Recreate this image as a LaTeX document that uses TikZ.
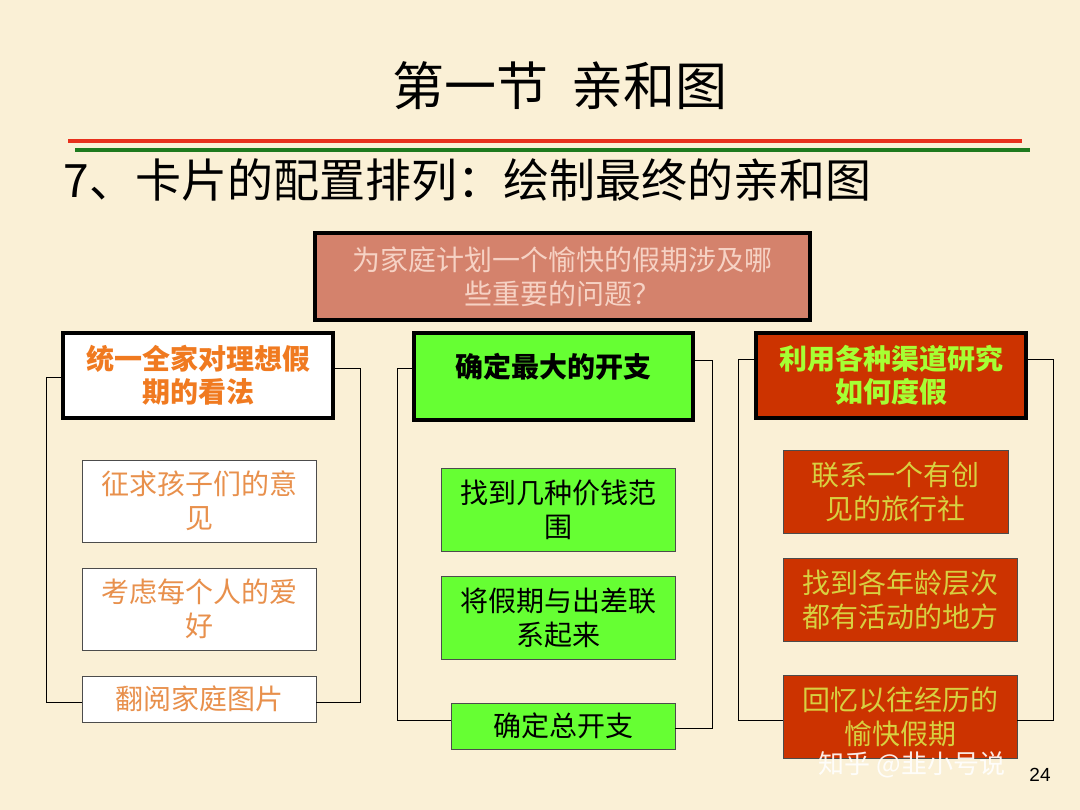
\documentclass[tikz,border=0pt]{standalone}
\usepackage{fontspec}
\setmainfont{Noto Sans CJK SC}
\setsansfont{Liberation Sans}
\definecolor{bg}{HTML}{FAF0D6}
\definecolor{salmon}{HTML}{D4826C}
\definecolor{pinkt}{HTML}{F6D2C4}
\definecolor{orng}{HTML}{F07A20}
\definecolor{orngl}{HTML}{E8904C}
\definecolor{grn}{HTML}{66FF33}
\definecolor{redf}{HTML}{CC3300}
\definecolor{grnt}{HTML}{A6FF33}
\definecolor{ylw}{HTML}{D8D040}
\definecolor{redl}{HTML}{E8301C}
\definecolor{grnl}{HTML}{1E7A1E}
\begin{document}
\begin{tikzpicture}[x=1pt,y=-1pt,
  hdr/.style={draw=black,line width=3.5pt,align=center,font=\fontsize{28}{33}\selectfont\bfseries,inner sep=0pt},
  card/.style={draw=black!70,line width=0.8pt,align=center,font=\fontsize{28}{34}\selectfont,inner sep=0pt},
  brk/.style={draw=black,line width=1pt}]
\useasboundingbox (0,0) rectangle (1080,810);
\fill[bg] (0,0) rectangle (1080,810);
\node[font=\fontsize{52}{56}\selectfont] (title) at (560,86) {第一节\ \ 亲和图};
\draw[redl,line width=3.5pt] (68,141) -- (1022,141);
\draw[grnl,line width=3.5pt] (75,150) -- (1030,150);
\node[anchor=west,font=\fontsize{46}{50}\selectfont] (sub) at (60,180) {7、卡片的配置排列：绘制最终的亲和图};
\node[draw=black,line width=3.5pt,fill=salmon,text=pinkt,minimum width=495pt,minimum height=87pt,align=center,font=\fontsize{28}{34}\selectfont] (top) at (562.5,276.5) {为家庭计划一个愉快的假期涉及哪\\些重要的问题？};
\node[hdr,fill=white,text=orng,minimum width=270pt,minimum height=85pt] (h1) at (198,375.5) {统一全家对理想假\\期的看法};
\node[hdr,fill=grn,text=black,minimum width=279pt,minimum height=87pt] (h2) at (553.5,376.5) {\raisebox{22pt}{确定最大的开支}};
\node[hdr,fill=redf,text=grnt,minimum width=270pt,minimum height=85pt] (h3) at (891,375.5) {利用各种渠道研究\\如何度假};
\node[card,fill=white,text=orngl,minimum width=234pt,minimum height=82pt] (a1) at (199,501) {征求孩子们的意\\见};
\node[card,fill=white,text=orngl,minimum width=234pt,minimum height=82pt] (a2) at (199,609) {考虑每个人的爱\\好};
\node[card,fill=white,text=orngl,minimum width=234pt,minimum height=46pt] (a3) at (199,699) {翻阅家庭图片};
\node[card,fill=grn,text=black,minimum width=234pt,minimum height=83pt] (b1) at (558,509.5) {找到几种价钱范\\围};
\node[card,fill=grn,text=black,minimum width=234pt,minimum height=83pt] (b2) at (558,617.5) {将假期与出差联\\系起来};
\node[card,fill=grn,text=black,minimum width=224pt,minimum height=46pt] (b3) at (563,726) {确定总开支};
\node[card,fill=redf,text=ylw,minimum width=225pt,minimum height=83pt] (c1) at (895.5,491.5) {联系一个有创\\见的旅行社};
\node[card,fill=redf,text=ylw,minimum width=234pt,minimum height=83pt] (c2) at (900,599.5) {找到各年龄层次\\都有活动的地方};
\node[card,fill=redf,text=ylw,minimum width=234pt,minimum height=83pt] (c3) at (900,716.5) {回忆以往经历的\\愉快假期};
\coordinate (l1a) at (46,378); \coordinate (l1b) at (46,702);
\coordinate (r1a) at (360,369); \coordinate (r1b) at (360,702);
\draw[brk] (h1.west |- l1a) -- (l1a) -- (l1b) -- (a3.west |- l1b);
\draw[brk] (h1.east |- r1a) -- (r1a) -- (r1b) -- (a3.east |- r1b);
\coordinate (l2a) at (397,369); \coordinate (l2b) at (397,720);
\coordinate (r2a) at (712,361); \coordinate (r2b) at (712,728);
\draw[brk] (h2.west |- l2a) -- (l2a) -- (l2b) -- (b3.west |- l2b);
\draw[brk] (h2.east |- r2a) -- (r2a) -- (r2b) -- (b3.east |- r2b);
\coordinate (l3a) at (738,360); \coordinate (l3b) at (738,720);
\coordinate (r3a) at (1053,360); \coordinate (r3b) at (1053,720);
\draw[brk] (h3.west |- l3a) -- (l3a) -- (l3b) -- (c3.west |- l3b);
\draw[brk] (h3.east |- r3a) -- (r3a) -- (r3b) -- (c3.east |- r3b);
\node[font=\sffamily\fontsize{19}{20}\selectfont] (pg) at (1040,775) {24};
\node[text=white,opacity=0.9,font=\fontsize{26}{30}\selectfont] (wm) at (912,765) {知乎 @韭小号说};
\end{tikzpicture}
\end{document}
